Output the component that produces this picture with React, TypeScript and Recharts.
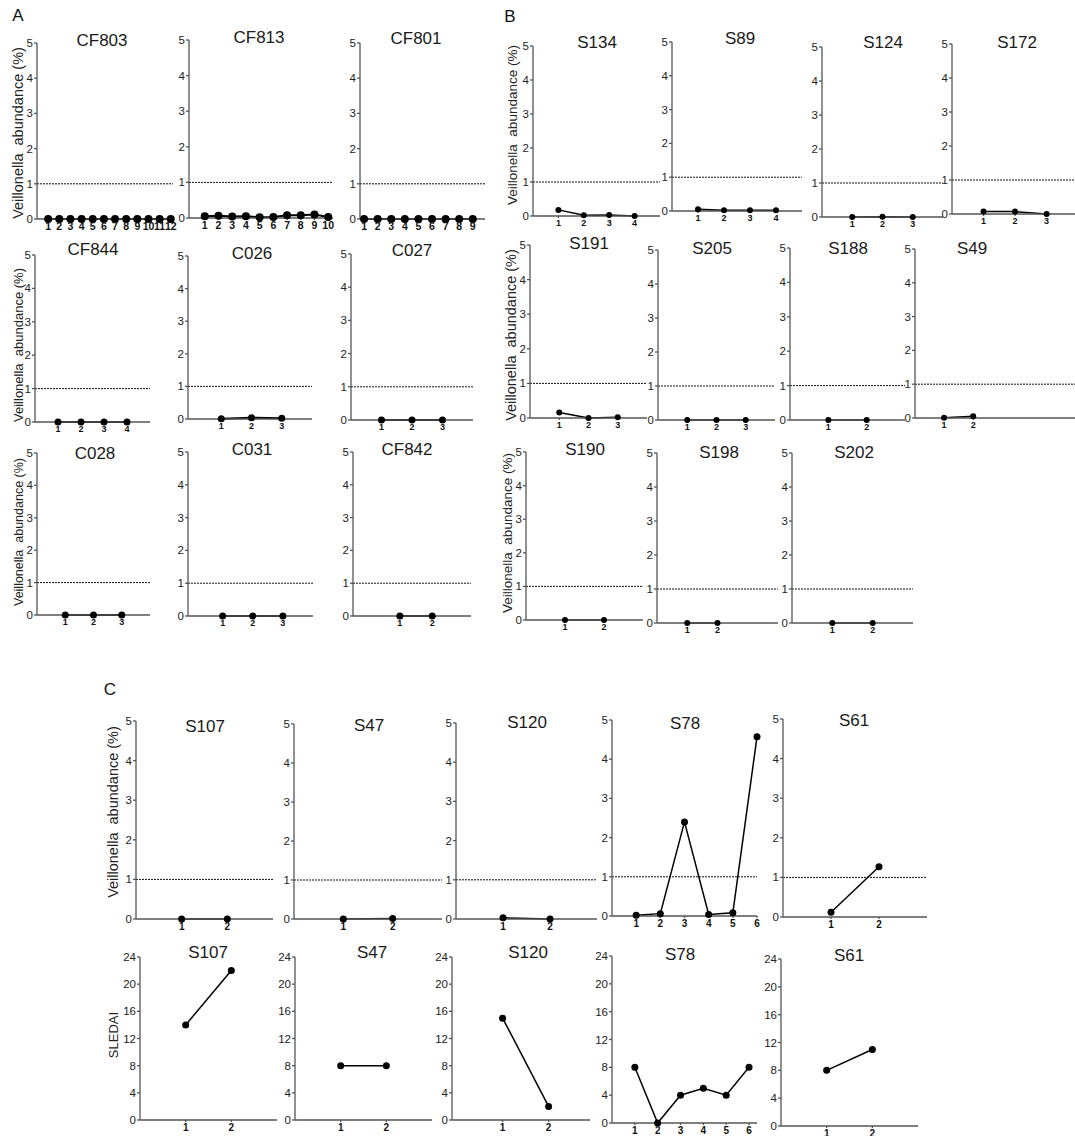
import React from "react";
import { LineChart, Line, XAxis, YAxis, ReferenceLine } from "recharts";

// Veillonella abundance (%) per time point
const cf803 = [0, 0, 0, 0, 0, 0, 0, 0, 0, 0, 0, 0];
const cf813 = [0.05, 0.06, 0.04, 0.05, 0.02, 0.03, 0.08, 0.08, 0.1, 0.03];
const cf801 = [0, 0, 0, 0, 0, 0, 0, 0, 0];
const cf844 = [0, 0, 0, 0];
const c026 = [0.01, 0.04, 0.02];
const c027 = [0, 0, 0];
const c028 = [0, 0, 0];
const c031 = [0, 0, 0];
const cf842 = [0, 0];

const s134 = [0.18, 0.02, 0.03, 0];
const s89 = [0.05, 0.02, 0.02, 0.02];
const s124 = [0, 0.01, 0];
const s172 = [0.07, 0.07, 0];
const s191 = [0.16, 0, 0.02];
const s205 = [0, 0, 0];
const s188 = [0, 0];
const s49 = [0.01, 0.05];
const s190 = [0, 0];
const s198 = [0, 0];
const s202 = [0, 0];

const s107 = [0, 0];
const s47 = [0, 0.01];
const s120 = [0.03, 0];
const s78 = [0.02, 0.06, 2.4, 0.04, 0.08, 4.57];
const s61 = [0.12, 1.27];

// SLEDAI score per time point
const s107Sledai = [14, 22];
const s47Sledai = [8, 8];
const s120Sledai = [15, 2];
const s78Sledai = [8, 0, 4, 5, 4, 8];
const s61Sledai = [8, 11];

const abTicks = [0, 1, 2, 3, 4, 5];
const sledaiTicks = [0, 4, 8, 12, 16, 20, 24];
const yLabel = "Veillonella  abundance (%)";

type Panel = {
  name: string;
  values: number[];
  sledai?: boolean;
  x0: number; y0: number; x1: number; y1: number;
  lo: number; hi: number;
  tx: number; ty: number;
  r: number; sw: number; fs: number;
};

const panels: Panel[] = [
  // A
  { name: "CF803", values: cf803, x0: 37, y0: 43, x1: 173, y1: 219, lo: 0, hi: 12.2, tx: 102, ty: 40, r: 4, sw: 2, fs: 10.5 },
  { name: "CF813", values: cf813, x0: 189, y0: 40, x1: 333, y1: 218, lo: -0.15, hi: 10.35, tx: 259, ty: 37, r: 4, sw: 2, fs: 10.5 },
  { name: "CF801", values: cf801, x0: 360, y0: 43, x1: 485, y1: 219, lo: 0.7, hi: 9.9, tx: 416, ty: 38, r: 4, sw: 2, fs: 10.5 },
  { name: "CF844", values: cf844, x0: 35, y0: 255, x1: 150, y1: 422, lo: 0, hi: 5, tx: 93, ty: 249, r: 3.5, sw: 2, fs: 9 },
  { name: "C026", values: c026, x0: 188, y0: 256, x1: 312, y1: 419, lo: -0.1, hi: 4, tx: 252, ty: 253, r: 3.5, sw: 2, fs: 9 },
  { name: "C027", values: c027, x0: 351, y0: 254, x1: 473, y1: 420, lo: 0, hi: 4, tx: 412, ty: 250, r: 3.5, sw: 2, fs: 9 },
  { name: "C028", values: c028, x0: 37, y0: 453, x1: 150, y1: 615, lo: 0, hi: 4, tx: 95, ty: 453, r: 3.5, sw: 2, fs: 9 },
  { name: "C031", values: c031, x0: 188, y0: 452, x1: 313, y1: 616, lo: -0.15, hi: 4, tx: 252, ty: 449, r: 3.5, sw: 2, fs: 9 },
  { name: "CF842", values: cf842, x0: 353, y0: 452, x1: 471, y1: 616, lo: -0.45, hi: 3.2, tx: 407, ty: 449, r: 3.5, sw: 2, fs: 9 },
  // B
  { name: "S134", values: s134, x0: 533, y0: 46, x1: 660, y1: 216, lo: 0, hi: 5, tx: 597, ty: 42, r: 3, sw: 1.5, fs: 9 },
  { name: "S89", values: s89, x0: 672, y0: 42, x1: 802, y1: 211, lo: 0, hi: 5, tx: 740, ty: 38, r: 3, sw: 1.5, fs: 9 },
  { name: "S124", values: s124, x0: 822, y0: 47, x1: 943, y1: 217, lo: 0, hi: 4, tx: 883, ty: 42, r: 3, sw: 1.5, fs: 9 },
  { name: "S172", values: s172, x0: 952, y0: 44, x1: 1075, y1: 214, lo: 0, hi: 3.9, tx: 1017, ty: 42, r: 3, sw: 1.5, fs: 9 },
  { name: "S191", values: s191, x0: 530, y0: 245, x1: 647, y1: 418, lo: 0, hi: 4, tx: 589, ty: 243, r: 3, sw: 1.5, fs: 9 },
  { name: "S205", values: s205, x0: 658, y0: 250, x1: 775, y1: 420, lo: 0, hi: 4, tx: 712, ty: 248, r: 3, sw: 1.5, fs: 9 },
  { name: "S188", values: s188, x0: 790, y0: 248, x1: 905, y1: 420, lo: 0, hi: 3, tx: 848, ty: 248, r: 3, sw: 1.5, fs: 9 },
  { name: "S49", values: s49, x0: 915, y0: 249, x1: 1075, y1: 418, lo: 0, hi: 5.5, tx: 972, ty: 248, r: 3, sw: 1.5, fs: 9 },
  { name: "S190", values: s190, x0: 526, y0: 452, x1: 643, y1: 620, lo: 0, hi: 3, tx: 585, ty: 449, r: 3, sw: 1.5, fs: 9 },
  { name: "S198", values: s198, x0: 657, y0: 453, x1: 778, y1: 623, lo: 0, hi: 4, tx: 719, ty: 452, r: 3, sw: 1.5, fs: 9 },
  { name: "S202", values: s202, x0: 792, y0: 453, x1: 913, y1: 623, lo: 0, hi: 3, tx: 854, ty: 452, r: 3, sw: 1.5, fs: 9 },
  // C abundance
  { name: "S107", values: s107, x0: 136, y0: 721, x1: 273, y1: 919, lo: 0, hi: 3, tx: 205, ty: 726, r: 3.5, sw: 1.5, fs: 10 },
  { name: "S47", values: s47, x0: 294, y0: 724, x1: 442, y1: 919, lo: 0, hi: 3, tx: 369, ty: 725, r: 3.5, sw: 1.5, fs: 10 },
  { name: "S120", values: s120, x0: 456, y0: 723, x1: 597, y1: 919, lo: 0, hi: 3, tx: 527, ty: 722, r: 3.5, sw: 1.5, fs: 10 },
  { name: "S78", values: s78, x0: 612, y0: 720, x1: 757, y1: 916, lo: 0, hi: 6, tx: 685, ty: 723, r: 3.5, sw: 1.5, fs: 10 },
  { name: "S61", values: s61, x0: 783, y0: 719, x1: 927, y1: 917, lo: 0, hi: 3, tx: 854, ty: 720, r: 3.5, sw: 1.5, fs: 10 },
  // C SLEDAI
  { name: "S107", values: s107Sledai, sledai: true, x0: 140, y0: 957, x1: 277, y1: 1120, lo: 0, hi: 3, tx: 208, ty: 952, r: 3.5, sw: 1.5, fs: 10 },
  { name: "S47", values: s47Sledai, sledai: true, x0: 295, y0: 957, x1: 432, y1: 1120, lo: 0, hi: 3, tx: 372, ty: 952, r: 3.5, sw: 1.5, fs: 10 },
  { name: "S120", values: s120Sledai, sledai: true, x0: 452, y0: 957, x1: 590, y1: 1120, lo: -0.1, hi: 2.9, tx: 528, ty: 952, r: 3.5, sw: 1.5, fs: 10 },
  { name: "S78", values: s78Sledai, sledai: true, x0: 612, y0: 956, x1: 757, y1: 1123, lo: 0, hi: 6.35, tx: 680, ty: 954, r: 3.5, sw: 1.5, fs: 10 },
  { name: "S61", values: s61Sledai, sledai: true, x0: 781, y0: 959, x1: 918, y1: 1126, lo: 0, hi: 3, tx: 849, ty: 955, r: 3.5, sw: 1.5, fs: 10 },
];

const yLabels = [
  { text: yLabel, x: 18, y: 133, fs: 14.5 },
  { text: yLabel, x: 18, y: 345, fs: 13 },
  { text: yLabel, x: 19, y: 532, fs: 12.5 },
  { text: yLabel, x: 512, y: 125, fs: 13.5 },
  { text: yLabel, x: 511, y: 335, fs: 14.5 },
  { text: yLabel, x: 507, y: 533, fs: 13.5 },
  { text: yLabel, x: 113, y: 812, fs: 14.5 },
  { text: "SLEDAI", x: 113, y: 1035, fs: 13 },
];

const FONT = "'Liberation Sans', Arial, Helvetica, sans-serif";
const AXIS = "#555";

function SmallPanel({ p }: { p: Panel }) {
  const ML = 30, MT = 12, MB = 20, MR = 4;
  const data = p.values.map((v, i) => ({ t: i + 1, v }));
  const w = p.x1 - p.x0 + ML + MR;
  const h = p.y1 - p.y0 + MT + MB;
  return (
    <>
      <div style={{ position: "absolute", left: p.x0 - ML, top: p.y0 - MT }}>
        <LineChart width={w} height={h} data={data} margin={{ top: MT, right: MR, left: 0, bottom: 0 }}>
          <XAxis
            dataKey="t"
            type="number"
            domain={[p.lo, p.hi]}
            ticks={data.map(d => d.t)}
            interval={0}
            height={MB}
            stroke={AXIS}
            strokeWidth={1.3}
            tickSize={2}
            tick={{ fontSize: p.fs, fontWeight: 700, fill: "#111" }}
          />
          <YAxis
            width={ML}
            type="number"
            domain={p.sledai ? [0, 24] : [0, 5]}
            ticks={p.sledai ? sledaiTicks : abTicks}
            interval={0}
            stroke={AXIS}
            strokeWidth={1.3}
            tickSize={3}
            tickMargin={1}
            tick={{ fontSize: 11.5, fill: "#222" }}
          />
          {!p.sledai && <ReferenceLine y={1} stroke="#111" strokeWidth={1} strokeDasharray="2 1" />}
          <Line
            dataKey="v"
            type="linear"
            stroke="#000"
            strokeWidth={p.sw}
            dot={{ r: p.r, fill: "#000", stroke: "#000", strokeWidth: 0 }}
            isAnimationActive={false}
          />
        </LineChart>
      </div>
      <div
        style={{
          position: "absolute",
          left: p.tx,
          top: p.ty,
          transform: "translate(-50%, -50%)",
          fontSize: 17,
          fontWeight: 400,
          color: "#1a1a1a",
          whiteSpace: "nowrap",
          lineHeight: 1,
        }}
      >
        {p.name}
      </div>
    </>
  );
}

export default function App() {
  return (
    <div style={{ position: "absolute", left: 0, top: 0, width: 1075, height: 1136, background: "#fff", fontFamily: FONT, overflow: "hidden" }}>
      <svg width={1075} height={1136} style={{ position: "absolute", left: 0, top: 0 }}>
        <text x={18} y={15} fontSize={17} textAnchor="middle" dominantBaseline="central" fill="#111">A</text>
        <text x={510} y={16} fontSize={17} textAnchor="middle" dominantBaseline="central" fill="#111">B</text>
        <text x={110} y={689} fontSize={17} textAnchor="middle" dominantBaseline="central" fill="#111">C</text>
        {yLabels.map((l, i) => (
          <text
            key={i}
            x={l.x}
            y={l.y}
            fontSize={l.fs}
            textAnchor="middle"
            dominantBaseline="central"
            fill="#222"
            transform={`rotate(-90 ${l.x} ${l.y})`}
            style={{ whiteSpace: "pre" }}
          >
            {l.text}
          </text>
        ))}
      </svg>
      {panels.map((p, i) => (
        <SmallPanel key={i} p={p} />
      ))}
    </div>
  );
}
